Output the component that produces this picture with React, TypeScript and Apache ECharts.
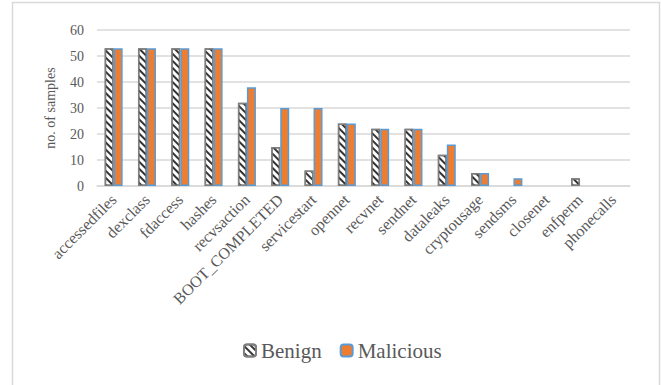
import React, { useEffect, useRef } from "react";
import * as echarts from "echarts";

const categories = [
  "accessedfiles", "dexclass", "fdaccess", "hashes", "recvsaction", "BOOT_COMPLETED",
  "servicestart", "opennet", "recvnet", "sendnet", "dataleaks", "cryptousage",
  "sendsms", "closenet", "enfperm", "phonecalls",
];
const benign = [53, 53, 53, 53, 32, 15, 6, 24, 22, 22, 12, 5, 0, 0, 3, 0];
const malicious = [53, 53, 53, 53, 38, 30, 30, 24, 22, 22, 16, 5, 3, 0, 0, 0];
const seriesNames = ["Benign", "Malicious"];

const FONT = "'Liberation Serif', 'Times New Roman', serif";

const noZero = (arr: number[]) => arr.map((v) => (v === 0 ? null : v));

export default function App() {
  const ref = useRef<HTMLDivElement>(null);
  useEffect(() => {
    if (!ref.current) return;
    const chart = echarts.init(ref.current, null, { renderer: "svg" });
    const legendText = { fontFamily: FONT, fontSize: 21, color: "#595959" };
    chart.setOption({
      animation: false,
      backgroundColor: "#ffffff",
      textStyle: { fontFamily: FONT },
      graphic: [
        {
          type: "rect",
          shape: { x: 12.5, y: 2.5, width: 647, height: 420 },
          style: { fill: "none", stroke: "#d9d9d9", lineWidth: 1.5 },
          silent: true,
        },
      ],
      grid: { left: 97, right: 32, top: 30, bottom: 199 },
      legend: {
        left: 238,
        top: 335,
        itemWidth: 12,
        itemHeight: 12,
        itemGap: 18,
        textStyle: legendText,
        data: seriesNames.map((n) => ({ name: n, textStyle: legendText })),
      },
      xAxis: {
        type: "category",
        data: categories,
        axisLine: { lineStyle: { color: "#d9d9d9", width: 1.5 } },
        axisTick: { show: false },
        axisLabel: {
          interval: 0,
          rotate: 45,
          margin: 11,
          fontFamily: FONT,
          fontSize: 16,
          color: "#595959",
        },
      },
      yAxis: {
        type: "value",
        min: 0,
        max: 60,
        interval: 10,
        name: "no. of samples",
        nameLocation: "middle",
        nameGap: 40,
        nameRotate: 90,
        nameTextStyle: { fontFamily: FONT, fontSize: 14, color: "#595959" },
        axisLine: { show: false },
        axisTick: { show: false },
        axisLabel: { margin: 13, fontFamily: FONT, fontSize: 14, color: "#595959" },
        splitLine: { lineStyle: { color: "#d9d9d9", width: 1.5 } },
      },
      series: [
        {
          name: seriesNames[0],
          type: "bar",
          data: noZero(benign),
          barWidth: 9,
          barGap: "0%",
          itemStyle: {
            color: "#ffffff",
            borderColor: "#7f7f7f",
            borderWidth: 1.5,
            decal: {
              symbol: "rect",
              symbolSize: 1,
              color: "#333333",
              dashArrayX: [1, 0],
              dashArrayY: [2, 2.5],
              rotation: Math.PI / 4,
            },
          },
        },
        {
          name: seriesNames[1],
          type: "bar",
          data: noZero(malicious),
          barWidth: 9,
          itemStyle: {
            color: "#ED7D31",
            borderColor: "#5B9BD5",
            borderWidth: 1.5,
          },
        },
      ],
    });
    return () => chart.dispose();
  }, []);
  return (
    <div
      ref={ref}
      style={{ position: "fixed", left: 0, top: 0, width: 662, height: 385 }}
    />
  );
}
